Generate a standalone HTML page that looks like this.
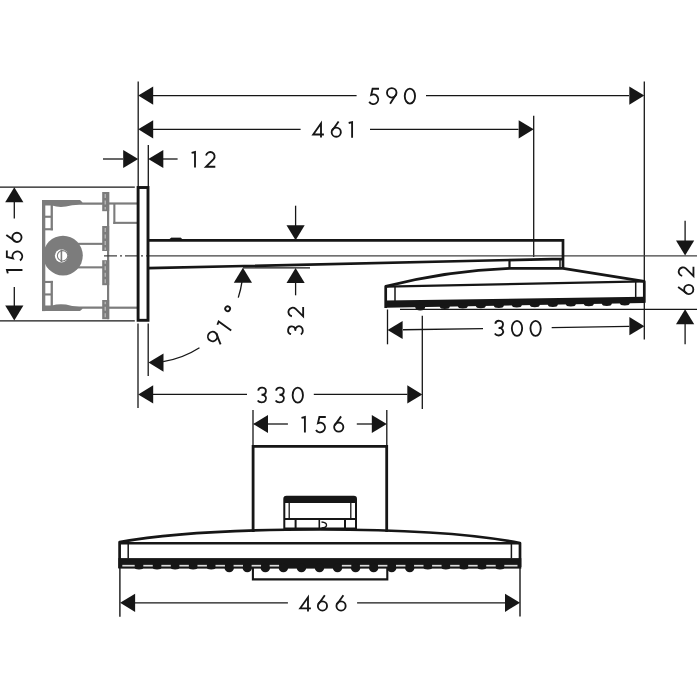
<!DOCTYPE html>
<html><head><meta charset="utf-8"><style>html,body{margin:0;padding:0;background:#fff;width:700px;height:700px;overflow:hidden}svg{display:block}</style></head>
<body><svg width="700" height="700" viewBox="0 0 700 700"><rect width="700" height="700" fill="#fff"/><g><rect x="42" y="200.1" width="3.3" height="56" fill="#7c7c7c"/><path d="M42,200.1 H80 L82.6,202.4 H102 V204.7 H80 Q72,204.6 66,206.6 Q58,207.6 52,205.6 H42 Z" fill="#7c7c7c"/><rect x="50.6" y="204" width="2.3" height="26.3" fill="#7c7c7c"/><rect x="44" y="215.7" width="8" height="2.1" fill="#7c7c7c"/><rect x="44" y="228.2" width="9" height="2.1" fill="#7c7c7c"/><rect x="77" y="242.8" width="26" height="2.1" fill="#7c7c7c"/><rect x="102" y="202.4" width="36" height="2.2" fill="#7c7c7c"/><rect x="107.0" y="192" width="2.2" height="64" fill="#7c7c7c"/><rect x="102.2" y="192" width="7" height="19.2" fill="#7c7c7c"/><rect x="102.2" y="226" width="7" height="25" fill="#7c7c7c"/><line x1="105.2" y1="194" x2="105.2" y2="209.5" stroke="#c4c4c4" stroke-width="1.1" stroke-dasharray="4,2.5"/><line x1="105.2" y1="228" x2="105.2" y2="250" stroke="#c4c4c4" stroke-width="1.1" stroke-dasharray="4,2.5"/></g><g transform="matrix(1,0,0,-1,0,511.2)"><rect x="42" y="200.1" width="3.3" height="56" fill="#7c7c7c"/><path d="M42,200.1 H80 L82.6,202.4 H102 V204.7 H80 Q72,204.6 66,206.6 Q58,207.6 52,205.6 H42 Z" fill="#7c7c7c"/><rect x="50.6" y="204" width="2.3" height="26.3" fill="#7c7c7c"/><rect x="44" y="215.7" width="8" height="2.1" fill="#7c7c7c"/><rect x="44" y="228.2" width="9" height="2.1" fill="#7c7c7c"/><rect x="77" y="242.8" width="26" height="2.1" fill="#7c7c7c"/><rect x="102" y="202.4" width="36" height="2.2" fill="#7c7c7c"/><rect x="107.0" y="192" width="2.2" height="64" fill="#7c7c7c"/><rect x="102.2" y="192" width="7" height="19.2" fill="#7c7c7c"/><rect x="102.2" y="226" width="7" height="25" fill="#7c7c7c"/><line x1="105.2" y1="194" x2="105.2" y2="209.5" stroke="#c4c4c4" stroke-width="1.1" stroke-dasharray="4,2.5"/><line x1="105.2" y1="228" x2="105.2" y2="250" stroke="#c4c4c4" stroke-width="1.1" stroke-dasharray="4,2.5"/></g><rect x="113.3" y="203" width="2.1" height="21" fill="#7c7c7c"/><rect x="113.3" y="221.8" width="25" height="2.1" fill="#7c7c7c"/><circle cx="63" cy="255.6" r="19.8" fill="#7c7c7c"/><circle cx="61.5" cy="255.8" r="6.6" fill="#fff"/><circle cx="62.6" cy="255.8" r="5.2" fill="none" stroke="#7c7c7c" stroke-width="1.1"/><line x1="61.4" y1="249.5" x2="61.4" y2="262" stroke="#7c7c7c" stroke-width="1.6"/><line x1="138.2" y1="81.4" x2="138.2" y2="187" stroke="#161616" stroke-width="1.3" /><line x1="138.0" y1="323.5" x2="138.0" y2="408" stroke="#161616" stroke-width="1.3" /><line x1="148.3" y1="145" x2="148.3" y2="187" stroke="#161616" stroke-width="1.3" /><line x1="148.2" y1="323.5" x2="148.2" y2="376" stroke="#161616" stroke-width="1.3" /><line x1="533.7" y1="115.8" x2="533.7" y2="257" stroke="#161616" stroke-width="1.3" /><line x1="644.3" y1="81.6" x2="644.3" y2="339.5" stroke="#161616" stroke-width="1.3" /><line x1="0" y1="187.1" x2="134.8" y2="187.1" stroke="#161616" stroke-width="1.3" /><line x1="0" y1="320.9" x2="134.8" y2="320.9" stroke="#161616" stroke-width="1.3" /><line x1="153" y1="95.6" x2="356.6" y2="95.6" stroke="#161616" stroke-width="1.3" /><line x1="426" y1="95.6" x2="629" y2="95.6" stroke="#161616" stroke-width="1.3" /><polygon points="138.20,95.60 153.20,86.50 153.20,104.70" fill="#161616"/><polygon points="644.30,95.60 629.30,104.70 629.30,86.50" fill="#161616"/><g transform="translate(368.20,87.90)" fill="none" stroke="#161616" stroke-width="1.85"><path d="M10.8,0.85 H4.4 L3.0,7.0 A4.84,4.84 0 1 1 1.0,13.9"/></g><g transform="translate(386.00,87.90)" fill="none" stroke="#161616" stroke-width="1.85"><path d="M4.1,15.9 L10.34,6.13"/><circle cx="5.75" cy="4.9" r="4.75"/></g><g transform="translate(403.90,87.90)" fill="none" stroke="#161616" stroke-width="1.85"><ellipse cx="6.0" cy="8.15" rx="5.15" ry="7.5"/></g><line x1="153" y1="129.3" x2="300.6" y2="129.3" stroke="#161616" stroke-width="1.3" /><line x1="370" y1="129.3" x2="518.5" y2="129.3" stroke="#161616" stroke-width="1.3" /><polygon points="138.20,129.30 153.20,120.20 153.20,138.40" fill="#161616"/><polygon points="533.70,129.30 518.70,138.40 518.70,120.20" fill="#161616"/><g transform="translate(312.30,121.20)" fill="none" stroke="#161616" stroke-width="1.85"><path d="M8.7,16.4 V2.3 L0.9,13.3 H11.6"/></g><g transform="translate(330.70,121.20)" fill="none" stroke="#161616" stroke-width="1.85"><path d="M7.9,0.3 L1.55,9.3"/><circle cx="5.55" cy="10.95" r="4.6"/></g><g transform="translate(348.60,121.20)" fill="none" stroke="#161616" stroke-width="1.85"><path d="M0.1,1.8 L3.5,0.95 V16.45"/></g><line x1="103" y1="159" x2="123" y2="159" stroke="#161616" stroke-width="1.3" /><polygon points="138.20,159.00 123.20,168.10 123.20,149.90" fill="#161616"/><line x1="163" y1="159" x2="177.6" y2="159" stroke="#161616" stroke-width="1.3" /><polygon points="148.30,159.00 163.30,149.90 163.30,168.10" fill="#161616"/><g transform="translate(191.50,151.10)" fill="none" stroke="#161616" stroke-width="1.85"><path d="M0.1,1.8 L3.5,0.95 V16.45"/></g><g transform="translate(205.00,151.10)" fill="none" stroke="#161616" stroke-width="1.85"><path d="M1.07,4.4 A4.3,4.3 0 1 1 8.59,7.96 L0.95,15.65 H10.3"/></g><line x1="14.3" y1="202" x2="14.3" y2="218.6" stroke="#161616" stroke-width="1.3" /><line x1="14.3" y1="287" x2="14.3" y2="306" stroke="#161616" stroke-width="1.3" /><polygon points="14.30,187.20 23.40,202.20 5.20,202.20" fill="#161616"/><polygon points="14.30,320.60 5.20,305.60 23.40,305.60" fill="#161616"/><g transform="translate(6.0,273.5) rotate(-90)"><g transform="translate(0.00,0.00)" fill="none" stroke="#161616" stroke-width="1.85"><path d="M0.1,1.8 L3.5,0.95 V16.45"/></g><g transform="translate(12.10,0.00)" fill="none" stroke="#161616" stroke-width="1.85"><path d="M10.8,0.85 H4.4 L3.0,7.0 A4.84,4.84 0 1 1 1.0,13.9"/></g><g transform="translate(30.60,0.00)" fill="none" stroke="#161616" stroke-width="1.85"><path d="M7.9,0.3 L1.55,9.3"/><circle cx="5.55" cy="10.95" r="4.6"/></g></g><line x1="104" y1="255.85" x2="148" y2="255.85" stroke="#404040" stroke-width="1.3" stroke-dasharray="13,3,2,3"/><line x1="148" y1="255.85" x2="697" y2="255.85" stroke="#404040" stroke-width="1.4" /><line x1="295.6" y1="205.7" x2="295.6" y2="226" stroke="#161616" stroke-width="1.3" /><polygon points="295.60,240.20 286.50,225.20 304.70,225.20" fill="#161616"/><line x1="295.6" y1="283" x2="295.6" y2="295.3" stroke="#161616" stroke-width="1.3" /><polygon points="295.60,268.00 304.70,283.00 286.50,283.00" fill="#161616"/><line x1="243" y1="267.9" x2="310" y2="267.9" stroke="#161616" stroke-width="1.3" /><g transform="translate(287.5,335.6) rotate(-90)"><g transform="translate(0.00,0.00)" fill="none" stroke="#161616" stroke-width="1.85"><path d="M1.48,3.57 A3.88,3.6 0 1 1 5.3,7.8 L4.9,7.7 A4.5,3.8 0 1 1 1.0,13.4"/></g><g transform="translate(18.30,0.00)" fill="none" stroke="#161616" stroke-width="1.85"><path d="M1.07,4.4 A4.3,4.3 0 1 1 8.59,7.96 L0.95,15.65 H10.3"/></g></g><line x1="685.1" y1="220.8" x2="685.1" y2="241" stroke="#161616" stroke-width="1.3" /><polygon points="685.10,255.60 676.00,240.60 694.20,240.60" fill="#161616"/><line x1="685.1" y1="324" x2="685.1" y2="344.2" stroke="#161616" stroke-width="1.3" /><polygon points="685.10,309.30 694.20,324.30 676.00,324.30" fill="#161616"/><line x1="400" y1="309.3" x2="697" y2="309.3" stroke="#161616" stroke-width="1.3" /><g transform="translate(677.8,295) rotate(-90)"><g transform="translate(0.00,0.00)" fill="none" stroke="#161616" stroke-width="1.85"><path d="M7.9,0.3 L1.55,9.3"/><circle cx="5.55" cy="10.95" r="4.6"/></g><g transform="translate(18.00,0.00)" fill="none" stroke="#161616" stroke-width="1.85"><path d="M1.07,4.4 A4.3,4.3 0 1 1 8.59,7.96 L0.95,15.65 H10.3"/></g></g><line x1="403" y1="329.7721183800623" x2="483" y2="328.58831775700935" stroke="#161616" stroke-width="1.3" /><line x1="551.7" y1="327.5717289719626" x2="629.3" y2="326.42344236760124" stroke="#161616" stroke-width="1.3" /><polygon points="387.60,330.00 402.60,320.90 402.60,339.10" fill="#161616"/><polygon points="644.40,326.20 629.40,335.30 629.40,317.10" fill="#161616"/><line x1="387.5" y1="309.5" x2="387.5" y2="344.3" stroke="#161616" stroke-width="1.3" /><line x1="422.3" y1="315.7" x2="422.3" y2="409" stroke="#161616" stroke-width="1.3" /><g transform="translate(493.80,320.20)" fill="none" stroke="#161616" stroke-width="1.85"><path d="M1.48,3.57 A3.88,3.6 0 1 1 5.3,7.8 L4.9,7.7 A4.5,3.8 0 1 1 1.0,13.4"/></g><g transform="translate(511.00,320.20)" fill="none" stroke="#161616" stroke-width="1.85"><ellipse cx="6.0" cy="8.15" rx="5.15" ry="7.5"/></g><g transform="translate(529.60,320.20)" fill="none" stroke="#161616" stroke-width="1.85"><ellipse cx="6.0" cy="8.15" rx="5.15" ry="7.5"/></g><line x1="153" y1="394.4" x2="247" y2="394.4" stroke="#161616" stroke-width="1.3" /><line x1="313.8" y1="394.4" x2="407.4" y2="394.4" stroke="#161616" stroke-width="1.3" /><polygon points="138.20,394.40 153.20,385.30 153.20,403.50" fill="#161616"/><polygon points="422.30,394.40 407.30,403.50 407.30,385.30" fill="#161616"/><g transform="translate(256.70,387.00)" fill="none" stroke="#161616" stroke-width="1.85"><path d="M1.48,3.57 A3.88,3.6 0 1 1 5.3,7.8 L4.9,7.7 A4.5,3.8 0 1 1 1.0,13.4"/></g><g transform="translate(274.60,387.00)" fill="none" stroke="#161616" stroke-width="1.85"><path d="M1.48,3.57 A3.88,3.6 0 1 1 5.3,7.8 L4.9,7.7 A4.5,3.8 0 1 1 1.0,13.4"/></g><g transform="translate(291.80,387.00)" fill="none" stroke="#161616" stroke-width="1.85"><ellipse cx="6.0" cy="8.15" rx="5.15" ry="7.5"/></g><path d="M242.08,281.18 A94.7,94.7 0 0 1 238.26,297.58" fill="none" stroke="#161616" stroke-width="1.3"/><path d="M199.46,347.69 A94.7,94.7 0 0 1 163.11,361.53" fill="none" stroke="#161616" stroke-width="1.3"/><polygon points="242.90,267.80 252.00,282.80 233.80,282.80" fill="#161616"/><polygon points="148.50,362.60 163.50,353.50 163.50,371.70" fill="#161616"/><g transform="translate(205.3,338.3) rotate(-54)"><g transform="translate(0.00,0.00)" fill="none" stroke="#161616" stroke-width="1.85"><path d="M4.1,15.9 L10.34,6.13"/><circle cx="5.75" cy="4.9" r="4.75"/></g><g transform="translate(17.95,0.00)" fill="none" stroke="#161616" stroke-width="1.85"><path d="M0.1,1.8 L3.5,0.95 V16.45"/></g><g transform="translate(34.55,-1.80)" fill="none" stroke="#161616" stroke-width="1.85"><circle cx="2.5" cy="2.5" r="2.4"/></g></g><line x1="253.0" y1="410" x2="253.0" y2="446" stroke="#161616" stroke-width="1.3" /><line x1="386.8" y1="410" x2="386.8" y2="446" stroke="#161616" stroke-width="1.3" /><line x1="268" y1="424.0" x2="287.9" y2="424.0" stroke="#161616" stroke-width="1.3" /><line x1="356.8" y1="424.0" x2="372" y2="424.0" stroke="#161616" stroke-width="1.3" /><polygon points="253.00,424.00 268.00,414.90 268.00,433.10" fill="#161616"/><polygon points="386.80,424.00 371.80,433.10 371.80,414.90" fill="#161616"/><g transform="translate(301.40,416.10)" fill="none" stroke="#161616" stroke-width="1.85"><path d="M0.1,1.8 L3.5,0.95 V16.45"/></g><g transform="translate(315.00,416.10)" fill="none" stroke="#161616" stroke-width="1.85"><path d="M10.8,0.85 H4.4 L3.0,7.0 A4.84,4.84 0 1 1 1.0,13.9"/></g><g transform="translate(333.20,416.10)" fill="none" stroke="#161616" stroke-width="1.85"><path d="M7.9,0.3 L1.55,9.3"/><circle cx="5.55" cy="10.95" r="4.6"/></g><line x1="119.9" y1="568" x2="119.9" y2="616.7" stroke="#161616" stroke-width="1.4" /><line x1="520" y1="568" x2="520" y2="616.5" stroke="#161616" stroke-width="1.4" /><line x1="135" y1="602.8" x2="287.9" y2="602.8" stroke="#161616" stroke-width="1.3" /><line x1="357.1" y1="602.8" x2="505" y2="602.8" stroke="#161616" stroke-width="1.3" /><polygon points="120.10,602.80 135.10,593.70 135.10,611.90" fill="#161616"/><polygon points="520.00,602.80 505.00,611.90 505.00,593.70" fill="#161616"/><g transform="translate(299.30,595.00)" fill="none" stroke="#161616" stroke-width="1.85"><path d="M8.7,16.4 V2.3 L0.9,13.3 H11.6"/></g><g transform="translate(316.90,595.00)" fill="none" stroke="#161616" stroke-width="1.85"><path d="M7.9,0.3 L1.55,9.3"/><circle cx="5.55" cy="10.95" r="4.6"/></g><g transform="translate(335.50,595.00)" fill="none" stroke="#161616" stroke-width="1.85"><path d="M7.9,0.3 L1.55,9.3"/><circle cx="5.55" cy="10.95" r="4.6"/></g><rect x="138.1" y="187.5" width="9.9" height="132.8" fill="none" stroke="#161616" stroke-width="2.9"/><path d="M148.3,240.45 H563 V268.3 M148.3,268.2 L563,258.8" fill="none" stroke="#161616" stroke-width="2.7"/><path d="M168.8,240 L171.2,237.9 H180.6 L183,240 Z" fill="#161616" stroke="#161616" stroke-width="0.6"/><line x1="509.5" y1="259.5" x2="509.5" y2="268.5" stroke="#161616" stroke-width="2.2" /><line x1="560" y1="258.8" x2="560" y2="268.5" stroke="#161616" stroke-width="1.5" /><path d="M385.7,308 V286.4 Q447.6,270.5 509.5,268.3 H563 L644.3,281.4 V302.8" fill="none" stroke="#161616" stroke-width="2.7" stroke-linejoin="round"/><path d="M385.7,286.6 L644.3,281.4" fill="none" stroke="#161616" stroke-width="2.4"/><line x1="395" y1="286.5" x2="395" y2="301" stroke="#161616" stroke-width="1.5" /><line x1="635.7" y1="282" x2="635.7" y2="297" stroke="#161616" stroke-width="1.5" /><polygon points="385.7,300.6 644.3,296.8 644.3,302.9 385.7,307.7" fill="#161616"/><ellipse cx="420.2" cy="307.26" rx="4.8" ry="3.3" fill="#161616"/><ellipse cx="444.80" cy="306.40" rx="5.0" ry="2.5" fill="#161616"/><ellipse cx="462.80" cy="306.07" rx="5.0" ry="2.5" fill="#161616"/><ellipse cx="480.80" cy="305.73" rx="5.0" ry="2.5" fill="#161616"/><ellipse cx="498.80" cy="305.40" rx="5.0" ry="2.5" fill="#161616"/><ellipse cx="516.80" cy="305.07" rx="5.0" ry="2.5" fill="#161616"/><ellipse cx="534.80" cy="304.73" rx="5.0" ry="2.5" fill="#161616"/><ellipse cx="552.80" cy="304.40" rx="5.0" ry="2.5" fill="#161616"/><ellipse cx="570.80" cy="304.06" rx="5.0" ry="2.5" fill="#161616"/><ellipse cx="588.80" cy="303.73" rx="5.0" ry="2.5" fill="#161616"/><ellipse cx="606.80" cy="303.40" rx="5.0" ry="2.5" fill="#161616"/><ellipse cx="624.80" cy="303.06" rx="5.0" ry="2.5" fill="#161616"/><path d="M253.1,532 V446.4 H386.7 V532" fill="none" stroke="#161616" stroke-width="2.8"/><path d="M284.3,528.5 V499 Q284.3,496.8 286.5,496.8 H353.8 Q356,496.8 356,499 V528.5 H284.3 Z" fill="none" stroke="#161616" stroke-width="2.0"/><rect x="284.3" y="497" width="71.7" height="6" fill="#161616"/><line x1="289.2" y1="503" x2="289.2" y2="519" stroke="#161616" stroke-width="1.3" /><line x1="350.8" y1="503" x2="350.8" y2="519" stroke="#161616" stroke-width="1.3" /><line x1="284.3" y1="518.9" x2="356" y2="518.9" stroke="#161616" stroke-width="2.0" /><line x1="295.6" y1="519" x2="295.6" y2="528" stroke="#161616" stroke-width="2.0" /><line x1="345.0" y1="519" x2="345.0" y2="528" stroke="#161616" stroke-width="2.0" /><line x1="319.3" y1="520" x2="319.3" y2="528" stroke="#161616" stroke-width="1.6" /><path d="M321.5,522 Q327,522.5 326.5,525.5 Q326,528 321.5,528" fill="none" stroke="#161616" stroke-width="1.3"/><path d="M119.6,568 V542.1 C180,531 260,529.5 320,529.5 S460,531 520,543.1 V567" fill="none" stroke="#161616" stroke-width="2.7" stroke-linejoin="round"/><line x1="119.6" y1="543.2" x2="520" y2="543.2" stroke="#161616" stroke-width="2.4" /><line x1="128.2" y1="543" x2="128.2" y2="558.5" stroke="#161616" stroke-width="1.5" /><line x1="511.4" y1="543" x2="511.4" y2="558.5" stroke="#161616" stroke-width="1.5" /><rect x="118.4" y="558.1" width="402.9" height="10.5" fill="#161616"/><ellipse cx="139.00" cy="567.6" rx="4.4" ry="1.9" fill="#161616"/><ellipse cx="157.05" cy="567.6" rx="4.4" ry="1.9" fill="#161616"/><ellipse cx="175.10" cy="567.6" rx="4.4" ry="1.9" fill="#161616"/><ellipse cx="193.15" cy="567.6" rx="4.4" ry="1.9" fill="#161616"/><ellipse cx="211.20" cy="567.6" rx="4.4" ry="1.9" fill="#161616"/><ellipse cx="229.25" cy="568.0" rx="4.7" ry="4.2" fill="#161616"/><ellipse cx="247.30" cy="568.0" rx="4.7" ry="4.2" fill="#161616"/><ellipse cx="265.35" cy="568.0" rx="4.7" ry="4.2" fill="#161616"/><ellipse cx="283.40" cy="568.0" rx="4.7" ry="4.2" fill="#161616"/><ellipse cx="301.45" cy="568.0" rx="4.7" ry="4.2" fill="#161616"/><ellipse cx="319.50" cy="568.0" rx="4.7" ry="4.2" fill="#161616"/><ellipse cx="337.55" cy="568.0" rx="4.7" ry="4.2" fill="#161616"/><ellipse cx="355.60" cy="568.0" rx="4.7" ry="4.2" fill="#161616"/><ellipse cx="373.65" cy="568.0" rx="4.7" ry="4.2" fill="#161616"/><ellipse cx="391.70" cy="568.0" rx="4.7" ry="4.2" fill="#161616"/><ellipse cx="409.75" cy="568.0" rx="4.7" ry="4.2" fill="#161616"/><ellipse cx="427.80" cy="567.6" rx="4.4" ry="1.9" fill="#161616"/><ellipse cx="445.85" cy="567.6" rx="4.4" ry="1.9" fill="#161616"/><ellipse cx="463.90" cy="567.6" rx="4.4" ry="1.9" fill="#161616"/><ellipse cx="481.95" cy="567.6" rx="4.4" ry="1.9" fill="#161616"/><ellipse cx="500.00" cy="567.6" rx="4.4" ry="1.9" fill="#161616"/><line x1="122.30" y1="565.7" x2="134.70" y2="565.7" stroke="#dcdcdc" stroke-width="1.7"/><line x1="143.30" y1="565.7" x2="152.75" y2="565.7" stroke="#dcdcdc" stroke-width="1.7"/><line x1="161.35" y1="565.7" x2="170.80" y2="565.7" stroke="#dcdcdc" stroke-width="1.7"/><line x1="179.40" y1="565.7" x2="188.85" y2="565.7" stroke="#dcdcdc" stroke-width="1.7"/><line x1="197.45" y1="565.7" x2="206.90" y2="565.7" stroke="#dcdcdc" stroke-width="1.7"/><line x1="215.50" y1="565.7" x2="224.95" y2="565.7" stroke="#dcdcdc" stroke-width="1.7"/><line x1="233.55" y1="565.7" x2="243.00" y2="565.7" stroke="#dcdcdc" stroke-width="1.7"/><line x1="251.60" y1="565.7" x2="261.05" y2="565.7" stroke="#dcdcdc" stroke-width="1.7"/><line x1="269.65" y1="565.7" x2="279.10" y2="565.7" stroke="#dcdcdc" stroke-width="1.7"/><line x1="341.85" y1="565.7" x2="351.30" y2="565.7" stroke="#dcdcdc" stroke-width="1.7"/><line x1="359.90" y1="565.7" x2="369.35" y2="565.7" stroke="#dcdcdc" stroke-width="1.7"/><line x1="377.95" y1="565.7" x2="387.40" y2="565.7" stroke="#dcdcdc" stroke-width="1.7"/><line x1="396.00" y1="565.7" x2="405.45" y2="565.7" stroke="#dcdcdc" stroke-width="1.7"/><line x1="414.05" y1="565.7" x2="423.50" y2="565.7" stroke="#dcdcdc" stroke-width="1.7"/><line x1="432.10" y1="565.7" x2="441.55" y2="565.7" stroke="#dcdcdc" stroke-width="1.7"/><line x1="450.15" y1="565.7" x2="459.60" y2="565.7" stroke="#dcdcdc" stroke-width="1.7"/><line x1="468.20" y1="565.7" x2="477.65" y2="565.7" stroke="#dcdcdc" stroke-width="1.7"/><line x1="486.25" y1="565.7" x2="495.70" y2="565.7" stroke="#dcdcdc" stroke-width="1.7"/><line x1="504.30" y1="565.7" x2="517.50" y2="565.7" stroke="#dcdcdc" stroke-width="1.7"/><path d="M252.9,568 V579.4 H387.3 V568" fill="none" stroke="#161616" stroke-width="2.1"/></svg></body></html>
